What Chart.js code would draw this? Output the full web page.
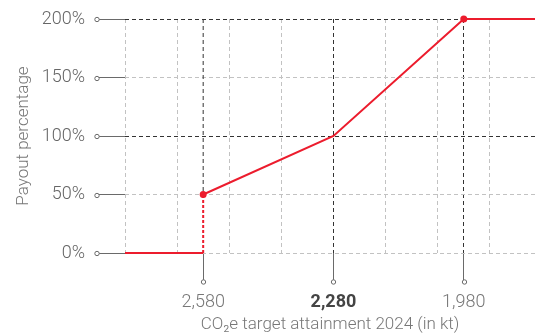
<!DOCTYPE html>
<html>
<head>
<meta charset="utf-8">
<script src="https://cdn.jsdelivr.net/npm/chart.js@4/dist/chart.umd.min.js"></script>
<style>
  html, body { margin: 0; padding: 0; background: #fff; }
  #wrap { width: 535px; height: 335px; position: relative; }
</style>
</head>
<body>
<div id="wrap"><canvas id="chart"></canvas></div>
<script>
// Payout curve: CO2e emissions (kt) against payout percentage
const curveKt  = [2760, 2580, 2580, 2280, 1980, 1816];
const curvePct = [0, 0, 50, 100, 200, 200];
const markerIdx = [2, 4];            // threshold and cap points
const stepIdx = 1;                   // vertical jump drawn dotted

// Labelled emission targets on the x axis
const targetKt = [2580, 2280, 1980];
const boldKt = 2280;
// Background grid positions (kt)
const gridKt = [2760, 2640, 2520, 2400, 2280, 2160, 2040, 1920];
const axisKt = [1816, 2760];

// Payout ticks
const pctTicks = [0, 50, 100, 150, 200];
const keyPct = [100, 200];

// Guide from the threshold point up to the cap level
const guideKt = [2580, 2580];
const guidePct = [200, 50];

const RED = '#ec1c2d';
const GRID = '#c2c2c2';
const KEY = '#333333';
const TICK = '#6a6a6a';
const FONT = 'Roboto, "Liberation Sans", Arial, sans-serif';

const xTicks = [...new Set([...gridKt, ...targetKt])].sort((a, b) => b - a);

const tickCircles = {
  id: 'tickCircles',
  afterDraw(chart) {
    const { ctx, scales: { x, y } } = chart;
    ctx.save();
    ctx.lineWidth = 1;
    ctx.strokeStyle = TICK;
    ctx.fillStyle = '#fff';
    const ring = (cx, cy) => {
      ctx.beginPath();
      ctx.arc(cx, cy, 2.2, 0, Math.PI * 2);
      ctx.fill();
      ctx.stroke();
    };
    const yl = y.options.grid.tickLength;
    pctTicks.forEach(v => ring(y.right - yl, Math.round(y.getPixelForValue(v)) + 0.5));
    const xl = x.options.grid.tickLength;
    targetKt.forEach(v => ring(Math.round(x.getPixelForValue(v)) + 0.5, x.top + xl));
    ctx.restore();
  }
};

new Chart(document.getElementById('chart'), {
  type: 'line',
  data: {
    datasets: [
      {
        data: curveKt.map((k, i) => ({ x: k, y: curvePct[i] })),
        borderColor: RED,
        backgroundColor: RED,
        borderWidth: 2,
        clip: 6,
        pointRadius: ctx => markerIdx.includes(ctx.dataIndex) ? 3.5 : 0,
        pointBorderWidth: 0,
        pointBackgroundColor: RED,
        tension: 0,
        segment: {
          borderDash: ctx => ctx.p0DataIndex === stepIdx ? [3, 2] : undefined
        }
      },
      {
        data: guideKt.map((k, i) => ({ x: k, y: guidePct[i] })),
        borderColor: KEY,
        borderWidth: 1,
        borderDash: [4, 3],
        clip: 6,
        pointRadius: 0,
        tension: 0
      }
    ]
  },
  options: {
    responsive: true,
    maintainAspectRatio: false,
    animation: false,
    events: [],
    layout: { padding: { top: 19, left: 0, right: 0, bottom: 0 } },
    plugins: { legend: { display: false }, tooltip: { enabled: false } },
    scales: {
      x: {
        type: 'linear',
        reverse: true,
        min: axisKt[0],
        max: axisKt[1],
        afterBuildTicks: s => { s.ticks = xTicks.map(v => ({ value: v })); },
        afterFit: s => { s.height = 82; s.paddingLeft = 0; s.paddingRight = 0; },
        border: { display: false, dash: [4, 3] },
        grid: {
          lineWidth: 1,
          color: ctx => {
            const v = ctx.tick && ctx.tick.value;
            if (v === 2580) return 'rgba(0,0,0,0)';
            return (v === 2280 || v === 1980) ? KEY : GRID;
          },
          tickLength: 29,
          tickWidth: 1,
          tickBorderDash: [],
          tickColor: ctx => targetKt.includes(ctx.tick && ctx.tick.value) ? TICK : 'rgba(0,0,0,0)'
        },
        ticks: {
          padding: 10,
          maxRotation: 0,
          autoSkip: false,
          callback: v => targetKt.includes(v) ? v.toLocaleString('en-US') : '',
          color: ctx => ctx.tick && ctx.tick.value === boldKt ? '#444' : '#777',
          font: ctx => ({
            family: FONT,
            size: 18,
            weight: ctx.tick && ctx.tick.value === boldKt ? 'bold' : '300'
          })
        },
        title: {
          display: true,
          text: 'CO₂e target attainment 2024 (in kt)',
          color: '#777',
          font: { family: FONT, size: 17, weight: '300' },
          padding: { top: 0, bottom: 0 }
        }
      },
      y: {
        min: 0,
        max: 200,
        afterBuildTicks: s => { s.ticks = pctTicks.map(v => ({ value: v })); },
        afterFit: s => { s.width = 125; s.paddingTop = 0; s.paddingBottom = 0; },
        border: { display: false, dash: [4, 3] },
        grid: {
          lineWidth: 1,
          color: ctx => keyPct.includes(ctx.tick && ctx.tick.value) ? KEY : GRID,
          tickLength: 28,
          tickWidth: 1,
          tickBorderDash: [],
          tickColor: TICK
        },
        ticks: {
          padding: 12,
          color: '#666',
          font: { family: FONT, size: 18, weight: '300' },
          callback: v => v + '%'
        },
        title: {
          display: true,
          text: 'Payout percentage',
          color: '#777',
          font: { family: FONT, size: 17, weight: '300' },
          padding: { top: 14, bottom: 0 }
        }
      }
    }
  },
  plugins: [tickCircles]
});
</script>
</body>
</html>
